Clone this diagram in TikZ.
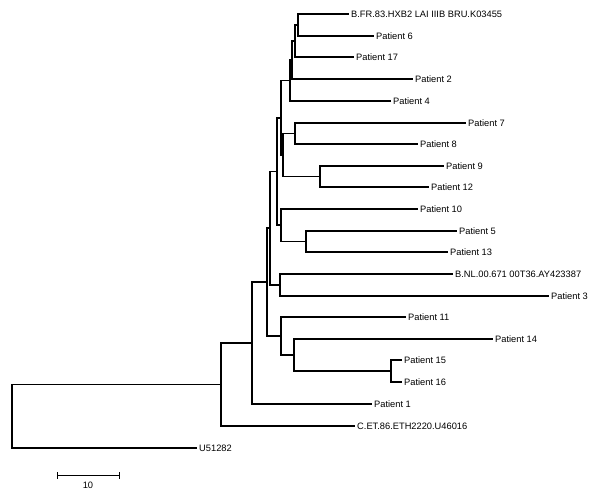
\documentclass[tikz,border=0pt]{standalone}
\usepackage{fontspec}
\setmainfont{Liberation Sans}
\begin{document}
\begin{tikzpicture}[x=1pt,y=-1pt,
  br/.style={line width=1.6pt,line join=miter,line cap=rect},
  lab/.style={anchor=west,inner sep=0pt,xshift=3pt,text height=6.7pt,text depth=0pt,font=\fontsize{9.3}{11}\selectfont}]
\useasboundingbox[fill=white] (0,0) rectangle (600,497);
% leaf tips
\coordinate (bfr) at (348,14);
\coordinate (p6) at (373,36);
\coordinate (p17) at (353,57);
\coordinate (p2) at (412,79);
\coordinate (p4) at (390,101);
\coordinate (p7) at (465,123);
\coordinate (p8) at (417,144);
\coordinate (p9) at (443,166);
\coordinate (p12) at (428,187);
\coordinate (p10) at (417,209);
\coordinate (p5) at (456,231);
\coordinate (p13) at (447,252);
\coordinate (bnl) at (452,274);
\coordinate (p3) at (548,296);
\coordinate (p11) at (405,317);
\coordinate (p14) at (492,339);
\coordinate (p15) at (401,360);
\coordinate (p16) at (401,382);
\coordinate (p1) at (371,404);
\coordinate (cet) at (354,426);
\coordinate (u) at (196,448);
% internal nodes
\coordinate (nA) at (298,25);
\coordinate (nB) at (295,41);
\coordinate (nC) at (292,60);
\coordinate (nD) at (290,80.5);
\coordinate (n78) at (295,133.5);
\coordinate (n912) at (320,176.5);
\coordinate (nPP) at (283,155);
\coordinate (nE) at (281,117.75);
\coordinate (n513) at (306,241.5);
\coordinate (nG) at (281,225.25);
\coordinate (nF) at (277,171.5);
\coordinate (nN) at (280,285);
\coordinate (nH) at (270,228.25);
\coordinate (n1516) at (391,371);
\coordinate (n14) at (294,355);
\coordinate (n11) at (281,336);
\coordinate (nI) at (267,282);
\coordinate (nJ) at (252,343);
\coordinate (nK) at (221,384.5);
\coordinate (root) at (12,416);
% branches
\draw[br] (nA) |- (bfr); \draw[br] (nA) |- (p6);
\draw[br] (nB) |- (nA); \draw[br] (nB) |- (p17);
\draw[br] (nC) |- (nB); \draw[br] (nC) |- (p2);
\draw[br] (nD) |- (nC); \draw[br] (nD) |- (p4);
\draw[br] (n78) |- (p7); \draw[br] (n78) |- (p8);
\draw[br] (n912) |- (p9); \draw[br] (n912) |- (p12);
\draw[br] (nPP) |- (n78); \draw[br] (nPP) |- (n912);
\draw[br] (nE) |- (nD); \draw[br] (nE) |- (nPP);
\draw[br] (n513) |- (p5); \draw[br] (n513) |- (p13);
\draw[br] (nG) |- (p10); \draw[br] (nG) |- (n513);
\draw[br] (nF) |- (nE); \draw[br] (nF) |- (nG);
\draw[br] (nN) |- (bnl); \draw[br] (nN) |- (p3);
\draw[br] (nH) |- (nF); \draw[br] (nH) |- (nN);
\draw[br] (n1516) |- (p15); \draw[br] (n1516) |- (p16);
\draw[br] (n14) |- (p14); \draw[br] (n14) |- (n1516);
\draw[br] (n11) |- (p11); \draw[br] (n11) |- (n14);
\draw[br] (nI) |- (nH); \draw[br] (nI) |- (n11);
\draw[br] (nJ) |- (nI); \draw[br] (nJ) |- (p1);
\draw[br] (nK) |- (nJ); \draw[br] (nK) |- (cet);
\draw[br] (root) |- (nK); \draw[br] (root) |- (u);
% labels
\node[lab] (lbfr) at (bfr) {B.FR.83.HXB2 LAI IIIB BRU.K03455};
\node[lab] (lp6) at (p6) {Patient 6};
\node[lab] (lp17) at (p17) {Patient 17};
\node[lab] (lp2) at (p2) {Patient 2};
\node[lab] (lp4) at (p4) {Patient 4};
\node[lab] (lp7) at (p7) {Patient 7};
\node[lab] (lp8) at (p8) {Patient 8};
\node[lab] (lp9) at (p9) {Patient 9};
\node[lab] (lp12) at (p12) {Patient 12};
\node[lab] (lp10) at (p10) {Patient 10};
\node[lab] (lp5) at (p5) {Patient 5};
\node[lab] (lp13) at (p13) {Patient 13};
\node[lab] (lbnl) at (bnl) {B.NL.00.671 00T36.AY423387};
\node[lab] (lp3) at (p3) {Patient 3};
\node[lab] (lp11) at (p11) {Patient 11};
\node[lab] (lp14) at (p14) {Patient 14};
\node[lab] (lp15) at (p15) {Patient 15};
\node[lab] (lp16) at (p16) {Patient 16};
\node[lab] (lp1) at (p1) {Patient 1};
\node[lab] (lcet) at (cet) {C.ET.86.ETH2220.U46016};
\node[lab] (lu) at (u) {U51282};
% scale bar
\coordinate (sbL) at (57,475.5);
\coordinate (sbR) at (119,475.5);
\draw[line width=1pt] (sbL) -- (sbR);
\draw[line width=1pt] ([yshift=3.5pt]sbL) -- ([yshift=-3.5pt]sbL);
\draw[line width=1pt] ([yshift=3.5pt]sbR) -- ([yshift=-3.5pt]sbR);
\node[inner sep=0pt,text height=6.7pt,text depth=0pt,font=\fontsize{9.3}{11}\selectfont] (sblab) at (88,485) {10};
\end{tikzpicture}
\end{document}
